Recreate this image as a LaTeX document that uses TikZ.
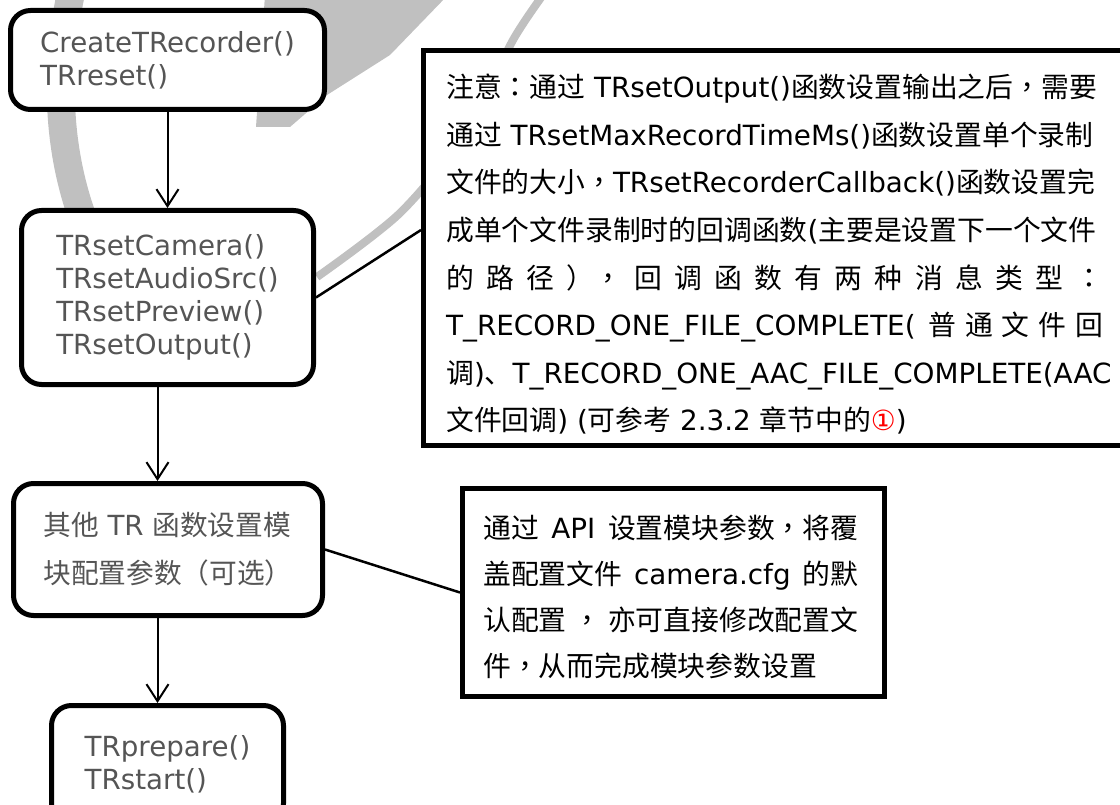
\documentclass[tikz,border=0pt]{standalone}
\usepackage{fontspec}
\setmainfont{DejaVu Sans}
\newfontfamily\cjk{Noto Sans CJK SC}
\newfontfamily\cjkp{Noto Sans CJK TC}
\usetikzlibrary{arrows.meta}
\definecolor{tg}{RGB}{85,85,85}
\definecolor{wm}{RGB}{192,192,192}
\begin{document}
\begin{tikzpicture}[x=1pt,y=-1pt,
  box/.style={draw, line width=5pt, rounded corners=20pt, fill=white, text=tg, align=left,
    font=\fontsize{27.7}{33}\selectfont, inner sep=0pt},
  notebox/.style={draw, line width=5pt, fill=white, inner sep=0pt},
  notetext/.style={anchor=north west, inner sep=0pt, align=left, text=black},
  arr/.style={-{Straight Barb[length=17pt,width=22pt]}, line width=2pt},
  link/.style={line width=2.5pt},
  wmline/.style={draw=wm, line cap=butt}]
\useasboundingbox (0,0) rectangle (1120,805);
\clip (0,0) rectangle (1120,805);
% watermark
\draw[wmline, line width=28pt] (72,-12) .. controls (52,80) and (58,170) .. (96,250);
\fill[wm] (265,-5) -- (448,-5) -- (390,55) -- (327,95) -- (290,127) -- (256,127) -- cycle;
\draw[wmline, line width=8pt] plot[smooth] coordinates {(548,-12) (513,40) (468,130) (400,213) (317,277)};
% flow boxes
\node[box, minimum width=314pt, minimum height=99pt] (b1) at (167.5,60)
  {CreateTRecorder()\\TRreset()};
\node[box, minimum width=292pt, minimum height=174pt] (b2) at (167.5,297.5)
  {TRsetCamera()\\TRsetAudioSrc()\\TRsetPreview()\\TRsetOutput()};
\node[box, minimum width=309pt, minimum height=132pt, font=\fontsize{27.7}{48}\selectfont] (b3) at (168,549.5)
  {{\cjk 其他} TR {\cjk 函数设置模}\\{\cjk 块配置参数}{\cjkp （}{\cjk 可选}{\cjkp ）}};
\node[box, minimum width=232pt, minimum height=118pt] (b4) at (167.5,764.5)
  {TRprepare()\\TRstart()};
% note boxes
\node[notebox, minimum width=711.5pt, minimum height=395pt] (n1) at (779.25,248) {};
\node[notetext, font=\fontsize{27.8}{47.6}\selectfont] (n1t) at (446,67.5)
  {\rule{0pt}{30pt}{\cjk 注意}{\cjkp ：}{\cjk 通过} TRsetOutput(){\cjk 函数设置输出之后}{\cjkp ，}{\cjk 需要}\\
   {\cjk 通过} TRsetMaxRecordTimeMs(){\cjk 函数设置单个录制}\\
   {\cjk 文件的大小}{\cjkp ，}TRsetRecorderCallback(){\cjk 函数设置完}\\
   {\cjk 成单个文件录制时的回调函数}({\cjk 主要是设置下一个文件}\\
   \makebox[657pt][s]{\cjk 的 路 径 {\cjkp ）}{\cjkp ，} 回 调 函 数 有 两 种 消 息 类 型 {\cjkp ：}}\\
   \makebox[657pt][s]{T\_RECORD\_ONE\_FILE\_COMPLETE( {\cjk 普 通 文 件 回}}\\
   {\cjk 调}){\cjk 、}T\_RECORD\_ONE\_AAC\_FILE\_COMPLETE(AAC\\
   {\cjk 文件回调}) ({\cjk 可参考} 2.3.2 {\cjk 章节中的}\textcolor{red}{①})};
\node[notebox, minimum width=422pt, minimum height=208pt] (n2) at (673.5,592.5) {};
\node[notetext, font=\fontsize{27.8}{46}\selectfont] (n2t) at (483,508.5)
  {\rule{0pt}{30pt}\makebox[375pt][s]{{\cjk 通过} API {\cjk 设置模块参数}{\cjkp ，}{\cjk 将覆}}\\
   \makebox[375pt][s]{{\cjk 盖配置文件} camera.cfg {\cjk 的默}}\\
   \makebox[375pt][s]{{\cjk 认配置}\hfil{\cjkp ，}\hfil{\cjk 亦可直接修改配置文}}\\
   {\cjk 件}{\cjkp ，}{\cjk 从而完成模块参数设置}};
% connectors
\draw[link] (b2.east) -- ([yshift=18pt]n1.west);
\draw[link] (b3.east) -- (n2.west);
\draw[arr] (b1.south) -- (b2.north);
\draw[arr] ([xshift=-10pt]b2.south) -- ([xshift=-10pt]b2.south |- b3.north);
\draw[arr] ([xshift=-10.5pt]b3.south) -- ([xshift=-10.5pt]b3.south |- b4.north);
\end{tikzpicture}
\end{document}
